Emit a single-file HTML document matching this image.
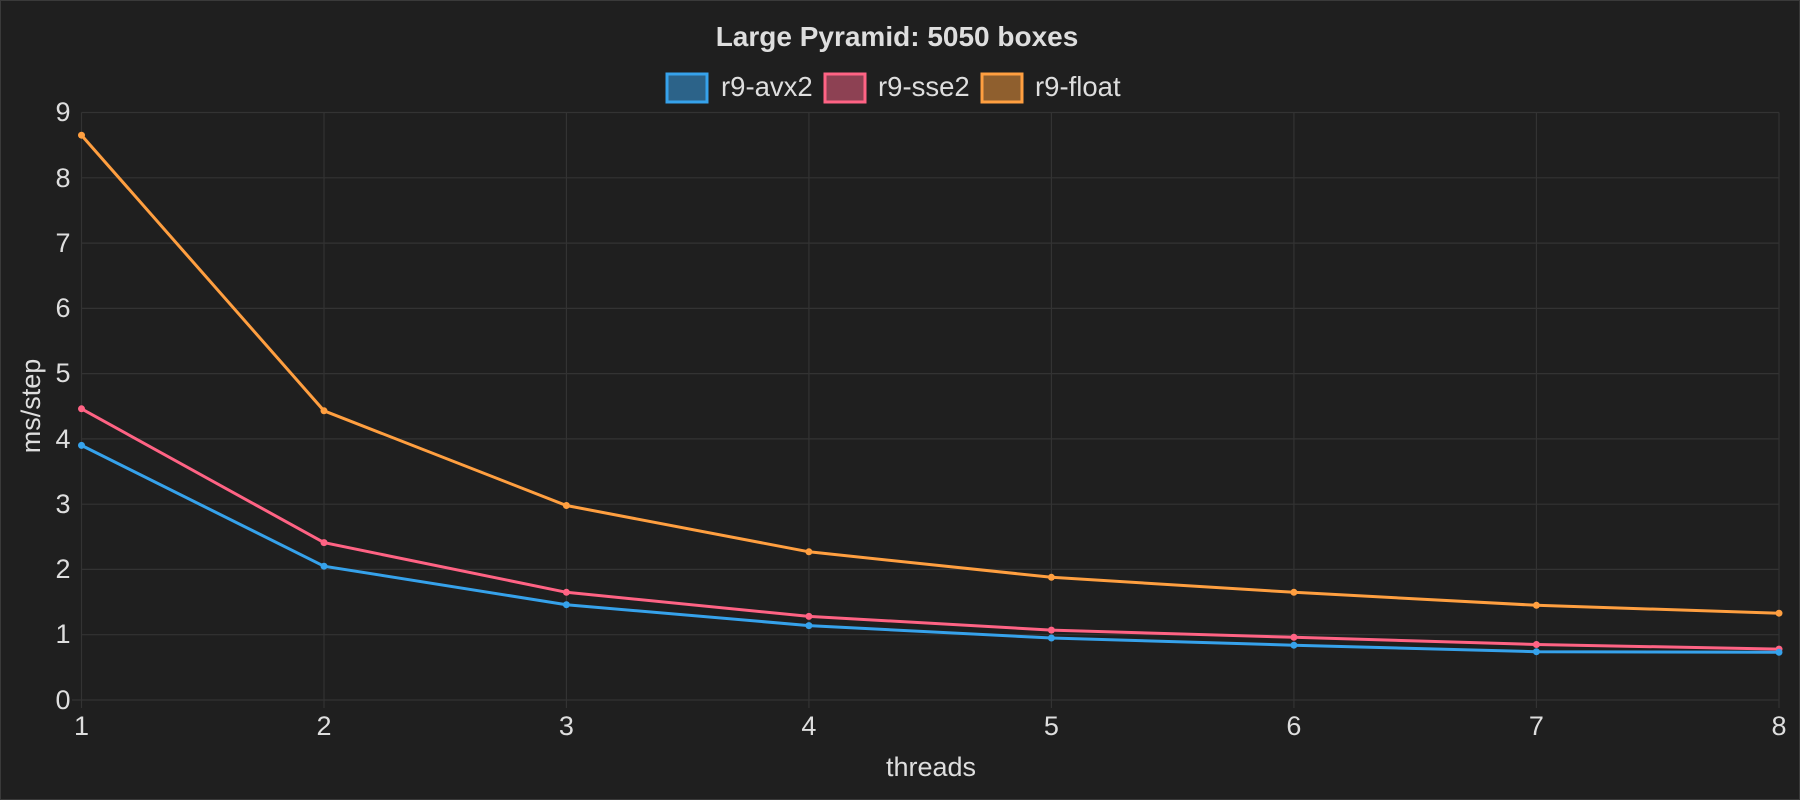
<!DOCTYPE html>
<html><head><style>body{margin:0;background:#1e1e1e}svg{display:block}</style></head><body>
<svg width="1800" height="800" xmlns="http://www.w3.org/2000/svg" font-family="Liberation Sans, sans-serif">
<rect x="0.5" y="0.5" width="1799" height="799" fill="#1f1f1f" stroke="#3a3a3a"/>
<text x="897" y="46" text-anchor="middle" font-size="28" font-weight="bold" fill="#dedede">Large Pyramid: 5050 boxes</text>
<g font-size="27.5" fill="#dedede">
<rect x="667" y="74" width="40" height="28" fill="#2c6389" stroke="#36a2eb" stroke-width="3"/><text x="721" y="96">r9-avx2</text>
<rect x="825" y="74" width="40" height="28" fill="#8d4153" stroke="#ff6384" stroke-width="3"/><text x="878" y="96">r9-sse2</text>
<rect x="982" y="74" width="40" height="28" fill="#8f5f2e" stroke="#ff9f40" stroke-width="3"/><text x="1035" y="96">r9-float</text>
</g>
<g stroke="#333" stroke-width="1.2">
<line x1="81.5" y1="112.5" x2="1779" y2="112.5"/><line x1="81.5" y1="177.8" x2="1779" y2="177.8"/><line x1="81.5" y1="243.1" x2="1779" y2="243.1"/><line x1="81.5" y1="308.4" x2="1779" y2="308.4"/><line x1="81.5" y1="373.6" x2="1779" y2="373.6"/><line x1="81.5" y1="438.9" x2="1779" y2="438.9"/><line x1="81.5" y1="504.2" x2="1779" y2="504.2"/><line x1="81.5" y1="569.4" x2="1779" y2="569.4"/><line x1="81.5" y1="634.7" x2="1779" y2="634.7"/><line x1="72" y1="700" x2="1779" y2="700"/>
<line x1="81.5" y1="112.5" x2="81.5" y2="708"/><line x1="324" y1="112.5" x2="324" y2="708"/><line x1="566.4" y1="112.5" x2="566.4" y2="708"/><line x1="808.9" y1="112.5" x2="808.9" y2="708"/><line x1="1051.4" y1="112.5" x2="1051.4" y2="708"/><line x1="1293.9" y1="112.5" x2="1293.9" y2="708"/><line x1="1536.4" y1="112.5" x2="1536.4" y2="708"/><line x1="1779" y1="112.5" x2="1779" y2="708"/>
</g>
<g font-size="27" fill="#dedede" text-anchor="middle">
<text x="63" y="121">9</text><text x="63" y="187">8</text><text x="63" y="252">7</text><text x="63" y="317">6</text><text x="63" y="382">5</text><text x="63" y="448">4</text><text x="63" y="513">3</text><text x="63" y="578">2</text><text x="63" y="643">1</text><text x="63" y="709">0</text>
<text x="81.5" y="735">1</text><text x="324" y="735">2</text><text x="566.4" y="735">3</text><text x="808.9" y="735">4</text><text x="1051.4" y="735">5</text><text x="1293.9" y="735">6</text><text x="1536.4" y="735">7</text><text x="1779" y="735">8</text>
<text x="931" y="776">threads</text>
<text transform="translate(40,406) rotate(-90)">ms/step</text>
</g>
<g fill="none" stroke-width="3">
<polyline stroke="#ff9f40" points="81.5,135.2 324,410.8 566.4,505.5 808.9,551.8 1051.4,577.3 1293.9,592.3 1536.4,605.3 1779,613.2"/>
<polyline stroke="#ff6384" points="81.5,408.8 324,542.6 566.4,592.3 808.9,616.4 1051.4,630.1 1293.9,637.3 1536.4,644.5 1779,649.1"/>
<polyline stroke="#36a2eb" points="81.5,445.4 324,566.2 566.4,604.7 808.9,625.6 1051.4,638.0 1293.9,645.2 1536.4,651.7 1779,652.3"/>
</g>
<g fill="#ff9f40"><circle cx="81.5" cy="135.2" r="3.5"/><circle cx="324" cy="410.8" r="3.5"/><circle cx="566.4" cy="505.5" r="3.5"/><circle cx="808.9" cy="551.8" r="3.5"/><circle cx="1051.4" cy="577.3" r="3.5"/><circle cx="1293.9" cy="592.3" r="3.5"/><circle cx="1536.4" cy="605.3" r="3.5"/><circle cx="1779" cy="613.2" r="3.5"/></g>
<g fill="#ff6384"><circle cx="81.5" cy="408.8" r="3.5"/><circle cx="324" cy="542.6" r="3.5"/><circle cx="566.4" cy="592.3" r="3.5"/><circle cx="808.9" cy="616.4" r="3.5"/><circle cx="1051.4" cy="630.1" r="3.5"/><circle cx="1293.9" cy="637.3" r="3.5"/><circle cx="1536.4" cy="644.5" r="3.5"/><circle cx="1779" cy="649.1" r="3.5"/></g>
<g fill="#36a2eb"><circle cx="81.5" cy="445.4" r="3.5"/><circle cx="324" cy="566.2" r="3.5"/><circle cx="566.4" cy="604.7" r="3.5"/><circle cx="808.9" cy="625.6" r="3.5"/><circle cx="1051.4" cy="638.0" r="3.5"/><circle cx="1293.9" cy="645.2" r="3.5"/><circle cx="1536.4" cy="651.7" r="3.5"/><circle cx="1779" cy="652.3" r="3.5"/></g>
</svg>
</body></html>
